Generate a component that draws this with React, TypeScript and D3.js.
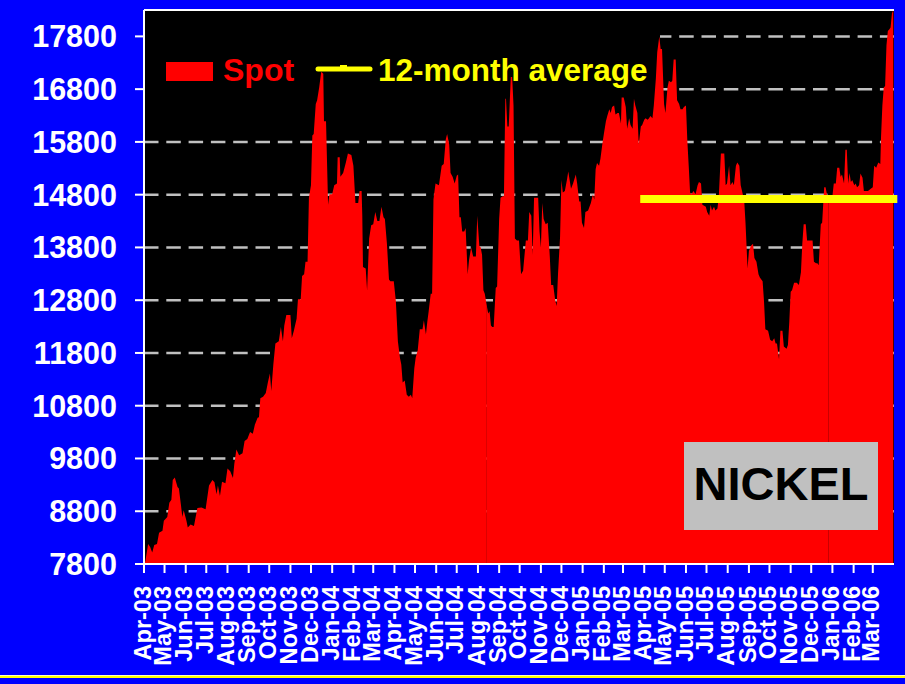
import React from 'react';
import * as d3 from 'd3';

// spot nickel price, [days since 1 Apr 2003, price]
const spot2003a: [number, number][] = [
  [0, 7810], [2, 7850], [6, 8180], [9, 8120], [12, 8020], [15, 8160], [19, 8180], [22, 8390], [27, 8430], [29, 8620],
  [34, 8690], [37, 8960], [40, 9020], [42, 9390], [45, 9440], [49, 9260], [51, 9230], [54, 8920], [56, 8690], [58, 8820],
  [62, 8620], [64, 8490], [68, 8550], [73, 8520], [78, 8860], [84, 8870], [90, 8840], [95, 9290], [100, 9390], [103, 9350],
  [106, 9120], [108, 9290], [111, 9090], [114, 9360], [119, 9330], [122, 9610], [126, 9560], [130, 9430], [132, 9700], [135, 9970],
  [139, 9860], [144, 9900], [147, 10130], [151, 10170], [155, 10300], [159, 10270], [162, 10440], [166, 10570], [168, 10580], [170, 10940],
  [174, 10970], [178, 11040], [181, 11240], [184, 11410], [186, 11080], [189, 11580], [192, 11980], [197, 12020], [200, 12290], [203, 12020],
  [205, 12320], [208, 12520], [214, 12520], [216, 12080],
];

const spot2003b: [number, number][] = [
  [219, 12220], [223, 12450], [225, 12820], [229, 12820], [231, 13260], [234, 13290], [236, 13530], [239, 13530], [241, 14740], [244, 14980],
  [246, 15920], [248, 15950], [251, 16520], [253, 16590], [256, 16830], [259, 17130], [262, 17090], [263, 16190], [266, 16190], [269, 14610],
  [271, 14810], [275, 14810], [278, 14980], [282, 15010], [283, 15510], [286, 15510], [287, 15140], [291, 15210], [295, 15410], [298, 15580],
  [303, 15550], [306, 15350], [309, 14640], [313, 14640], [315, 14870], [318, 14870], [319, 14400], [320, 13430], [324, 13400], [326, 12990],
  [329, 13970], [332, 14220], [335, 14240], [338, 14470], [341, 14300], [344, 14300], [347, 14570], [350, 14370], [352, 14340], [355, 13870],
  [358, 13190], [360, 13160], [365, 13160], [368, 12790], [371, 12020], [374, 11710], [376, 11580], [378, 11240], [381, 11280], [384, 11010],
  [387, 10970], [390, 11010], [392, 10940], [395, 11510], [397, 11710], [400, 11850], [403, 12250], [407, 12250], [409, 12420], [412, 12150],
  [414, 12390], [416, 12590], [419, 12920], [421, 12920], [423, 14710], [426, 15010], [431, 14980], [435, 15350],
];

const spot2004: [number, number][] = [
  [438, 15380], [441, 15850], [443, 15950], [446, 15750], [448, 15210], [451, 15140], [454, 15010], [457, 15160], [459, 15180], [461, 14370],
  [463, 14370], [465, 14100], [468, 14100], [470, 14170], [473, 13290], [475, 13560], [478, 13800], [481, 13630], [485, 13630], [487, 14400],
  [490, 13830], [492, 13800], [494, 13660], [496, 12990], [498, 12920], [501, 12690], [503, 12550], [505, 12590], [507, 12320], [509, 12290],
  [511, 12290], [514, 13030], [516, 13060], [519, 14340], [521, 14740], [524, 14770], [526, 14770], [528, 16620], [529, 16620], [531, 16090],
  [533, 16090], [536, 17030], [538, 17030], [540, 16490], [542, 13970], [545, 13930], [548, 13930], [551, 13290], [554, 13360], [558, 13930],
  [561, 13930], [563, 14470], [566, 14400], [568, 13660], [570, 14740], [573, 14740], [576, 14740], [578, 14100], [580, 13800], [582, 14640],
  [584, 14340], [587, 14240], [590, 14270], [593, 13630], [595, 13090], [598, 13090], [601, 12790], [603, 12690], [605, 13290], [608, 14000],
  [610, 15080], [612, 14840], [615, 14870], [618, 15080], [620, 15240], [622, 15080], [624, 14910], [627, 15010], [631, 15180], [633, 15010],
  [636, 14670], [638, 14670], [640, 14270], [643, 14170], [645, 14470], [649, 14500], [653, 14640], [656, 14810],
];

const spot2005a: [number, number][] = [
  [658, 14710], [660, 15280], [662, 15400], [665, 15350], [667, 15480], [670, 15780], [672, 15950], [675, 16190], [677, 16290], [680, 16420],
  [682, 16350], [684, 16460], [687, 16490], [689, 16320], [692, 16350], [694, 16350], [697, 16150], [698, 16640], [701, 16640], [704, 16460],
  [706, 16050], [709, 16250], [711, 16120], [714, 16050], [716, 16620], [718, 16490], [721, 16350], [723, 15750], [726, 16090], [728, 16120],
  [731, 16220], [733, 16250], [736, 16220], [738, 16250], [740, 16290], [743, 16250], [745, 16490], [748, 17000], [750, 17500], [753, 17800],
  [755, 17560], [757, 17560], [760, 16520], [762, 16350], [765, 16830], [767, 16960], [770, 16930], [772, 16960], [774, 17360], [777, 17360],
  [779, 16590], [782, 16520], [784, 16420], [787, 16420], [789, 16460], [792, 16490], [794, 15820], [796, 15350], [798, 14840], [800, 14810],
  [803, 14870], [806, 14810], [809, 14980], [811, 15040], [814, 15010], [816, 14610], [821, 14570], [823, 14470], [826, 14400], [828, 14610],
  [830, 14500], [833, 14570], [835, 14500], [838, 14540], [840, 14770], [843, 15580], [846, 15580], [848, 15580], [850, 14980], [852, 15010],
  [855, 15350], [857, 14980], [860, 15040], [862, 14980], [865, 15350], [867, 15410], [870, 15350], [872, 14980], [875, 14810],
];

const spot2005b: [number, number][] = [
  [877, 14710], [879, 14270], [882, 13400], [884, 13730], [887, 13830], [890, 13870], [892, 13600], [895, 13530], [898, 13290], [900, 13230],
  [904, 13160], [906, 12790], [908, 12250], [912, 12220], [915, 12050], [918, 12020], [921, 12080], [923, 11980], [925, 11980], [928, 11680],
  [930, 12220], [933, 12220], [935, 11920], [939, 11880], [941, 11950], [943, 12390], [945, 12960], [947, 12990], [950, 13130], [954, 13130],
  [957, 13090], [960, 13330], [962, 13870], [964, 14240], [967, 14240], [969, 13930], [972, 13930], [977, 13930], [979, 13530], [982, 13500],
  [984, 13500], [986, 13460], [989, 14240], [991, 14270], [994, 14940], [996, 14940], [998, 14810], [1000, 14670], [1002, 14640], [1006, 14770],
  [1008, 15010], [1011, 15010], [1013, 15310], [1016, 15310], [1018, 15140], [1020, 15180], [1023, 15010], [1025, 15650], [1027, 15650], [1029, 15010],
  [1031, 15210], [1033, 15040], [1035, 15080], [1038, 14980], [1040, 15010], [1042, 14940], [1045, 14980], [1047, 15200], [1050, 15120], [1052, 14870],
  [1055, 14870], [1058, 14870], [1062, 14910], [1065, 14940], [1067, 15350], [1070, 15310], [1073, 15410], [1076, 15380], [1077, 15880], [1079, 16490],
  [1081, 16830], [1083, 16860], [1085, 17630], [1087, 17900], [1089, 17930], [1091, 17970], [1093, 18240], [1095, 18300],
];

const avgPeriod = ['2005-04-01', '2006-03-31'];
const avgValue = 14720;

const yTicks = [7800, 8800, 9800, 10800, 11800, 12800, 13800, 14800, 15800, 16800, 17800];
const yMax = 18300;

// excel drew the area in chunks, leaving faint seams
const seamDays = [501, 1000];

const startDate = new Date(2003, 3, 1);
const endDate = new Date(2006, 3, 1);

const FONT = "'Liberation Sans', Arial, Helvetica, sans-serif";

const App: React.FC = () => {
  const W = 905;
  const H = 684;
  const left = 144, right = 894, top = 10, bottom = 564;

  const x = d3.scaleTime().domain([startDate, endDate]).range([left, right]);
  const y = d3.scaleLinear().domain([yTicks[0], yMax]).range([bottom, top]);

  const spot = [...spot2003a, ...spot2003b, ...spot2004, ...spot2005a, ...spot2005b];
  const dayX = (d: number) => x(d3.timeDay.offset(startDate, d));

  const area = d3.area<[number, number]>()
    .x(d => dayX(d[0]))
    .y0(y(yTicks[0]))
    .y1(d => y(d[1]));

  const cuts = [spot[0][0], ...seamDays, spot[spot.length - 1][0]];
  const segments = cuts.slice(1).map((c, i) => spot.filter(p => p[0] >= cuts[i] && p[0] <= c));

  const months = d3.timeMonth.range(startDate, endDate);
  const fmt = d3.timeFormat('%b-%y');
  const parse = d3.timeParse('%Y-%m-%d');
  const avgX0 = x(parse(avgPeriod[0]) as Date);
  const avgX1 = x(parse(avgPeriod[1]) as Date);

  return (
    <svg width={W} height={H} style={{ position: 'fixed', left: 0, top: 0, display: 'block' }}
      fontFamily={FONT} fontWeight="bold">
      <rect x={0} y={0} width={W} height={H} fill="#0000FF" />
      <rect x={left} y={top} width={right - left} height={bottom - top} fill="#000" />

      {/* gridlines */}
      {yTicks.slice(1).map(t => (
        <line key={t} x1={left} x2={right} y1={y(t)} y2={y(t)}
          stroke="#C0C0C0" strokeWidth={2.5} strokeDasharray="14.5 7.8" />
      ))}

      {/* legend background */}
      <rect x={left + 1} y={22} width={515} height={78} fill="#000" />

      {segments.map((s, i) => (
        <path key={i} d={area(s) || ''} fill="#FF0000" />
      ))}

      {/* 12-month average */}
      <line x1={avgX0} x2={avgX1} y1={y(avgValue)} y2={y(avgValue)}
        stroke="#FFFF00" strokeWidth={8} strokeLinecap="square" />

      {/* frame + axes */}
      <line x1={left} x2={right} y1={top} y2={top} stroke="#fff" strokeWidth={2} />
      <line x1={left} x2={left} y1={top} y2={bottom} stroke="#fff" strokeWidth={2} />
      <line x1={left - 9} x2={right} y1={bottom} y2={bottom} stroke="#fff" strokeWidth={2} />

      {yTicks.map(t => (
        <g key={t}>
          <line x1={left - 9} x2={left} y1={y(t)} y2={y(t)} stroke="#fff" strokeWidth={2} />
          <text x={117} y={y(t)} dy="0.36em" textAnchor="end" fill="#fff" fontSize={30.5}>{t}</text>
        </g>
      ))}

      {months.map(m => (
        <g key={m.getTime()}>
          <line x1={x(m)} x2={x(m)} y1={bottom} y2={bottom + 9} stroke="#fff" strokeWidth={2} />
          <text transform={`translate(${x(m)},586) rotate(-90)`} dy="0.28em" textAnchor="end"
            fill="#fff" fontSize={23.5}>{fmt(m)}</text>
        </g>
      ))}

      {/* legend */}
      <rect x={166} y={62} width={47} height={19} fill="#FF0000" />
      <text x={223} y={81} fill="#FF0000" fontSize={32}>Spot</text>
      <line x1={318} x2={370} y1={69} y2={69} stroke="#FFFF00" strokeWidth={5} strokeLinecap="round" />
      <rect x={340} y={65} width={7} height={4} fill="#FFFF00" />
      <text x={378} y={81} fill="#FFFF00" fontSize={31.5}>12-month average</text>

      {/* label box */}
      <rect x={684} y={442} width={194} height={88} fill="#C0C0C0" />
      <text x={781} y={500} textAnchor="middle" fill="#000" fontSize={47}>NICKEL</text>

      {/* bottom rule */}
      <rect x={0} y={675} width={W} height={1} fill="#FFFFC0" />
      <rect x={0} y={676} width={W} height={2} fill="#FFFF00" />
    </svg>
  );
};

export default App;
